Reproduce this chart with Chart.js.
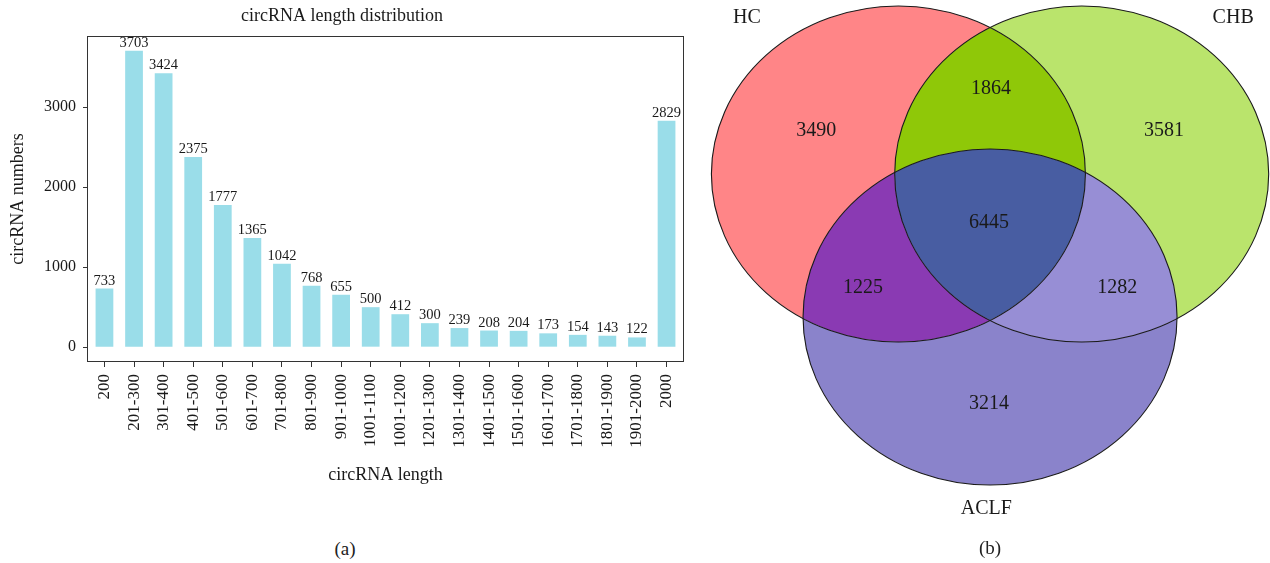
<!DOCTYPE html>
<html>
<head>
<meta charset="utf-8">
<script src="https://cdn.jsdelivr.net/npm/chart.js@4.4.1/dist/chart.umd.min.js"></script>
<style>
  html, body { margin: 0; padding: 0; background: #fff; }
  body { width: 1270px; height: 563px; position: relative; overflow: hidden; font-family: 'Liberation Serif', serif; }
  canvas { position: absolute; }
  #bars { left: 0; top: 0; }
  #venn { left: 700px; top: 0; }
  .cap { position: absolute; font-size: 19px; color: #222; transform: translate(-50%, -50%); line-height: 1; white-space: nowrap; }
</style>
</head>
<body>
<canvas id="bars" width="700" height="500"></canvas>
<canvas id="venn" width="570" height="563"></canvas>
<div class="cap" style="left:345px; top:548px;">(a)</div>
<div class="cap" style="left:990px; top:547px;">(b)</div>

<script>
// ---- (a) circRNA length distribution ----
const lengthBins = ['200', '201-300', '301-400', '401-500', '501-600', '601-700', '701-800',
  '801-900', '901-1000', '1001-1100', '1001-1200', '1201-1300', '1301-1400', '1401-1500',
  '1501-1600', '1601-1700', '1701-1800', '1801-1900', '1901-2000', '2000'];
const circCounts = [733, 3703, 3424, 2375, 1777, 1365, 1042, 768, 655, 500, 412, 300,
  239, 208, 204, 173, 154, 143, 122, 2829];
const countTicks = [0, 1000, 2000, 3000];

// ---- (b) overlap of circRNAs between groups ----
const groupNames = ['HC', 'CHB', 'ACLF'];
const regionGroups = [['HC'], ['HC', 'CHB'], ['CHB'], ['HC', 'CHB', 'ACLF'], ['HC', 'ACLF'], ['CHB', 'ACLF'], ['ACLF']];
const regionCounts = [3490, 1864, 3581, 6445, 1225, 1282, 3214];

// Diagram layout (unit circles in scale space) and region colours
const circleX = [-0.49, 0.49, 0];
const circleY = [0, 0, -0.851];
const circleR = [1, 1, 1];
const groupLabelX = [-1.30, 1.30, -0.02];
const groupLabelY = [0.928, 0.928, -1.99];
const regionLabelX = [-0.93, 0.005, 0.93, -0.005, -0.68, 0.68, -0.005];
const regionLabelY = [0.255, 0.506, 0.258, -0.29, -0.674, -0.674, -1.365];
const regionColors = ['#FF8587', '#8FC808', '#BAE46C', '#485DA2', '#8A3AB3', '#978ED5', '#8A83CB'];

const SERIF = "'Liberation Serif', 'Times New Roman', serif";
const INK = '#1a1a1a';

// Frame around the plot area and value labels over the bars
const barDecor = {
  id: 'barDecor',
  afterDatasetsDraw(chart) {
    const { ctx, chartArea: a } = chart;
    ctx.save();
    ctx.strokeStyle = '#333';
    ctx.lineWidth = 1;
    const l = Math.round(a.left) + 0.5, t = Math.round(a.top) + 0.5;
    ctx.strokeRect(l, t, Math.round(a.right) - l - 0.5, Math.round(a.bottom) - t - 0.5);
    ctx.fillStyle = INK;
    ctx.font = '14.5px ' + SERIF;
    ctx.textAlign = 'center';
    ctx.textBaseline = 'alphabetic';
    chart.getDatasetMeta(0).data.forEach((bar, i) => {
      ctx.fillText(String(circCounts[i]), bar.x, bar.y - 4);
    });
    ctx.restore();
  }
};

new Chart(document.getElementById('bars'), {
  type: 'bar',
  data: {
    datasets: [{
      data: circCounts.map((v, i) => ({ x: i, y: v })),
      backgroundColor: '#9ADDE9',
      borderWidth: 0,
      barPercentage: 0.6,
      categoryPercentage: 1
    }]
  },
  options: {
    responsive: false,
    animation: false,
    layout: { padding: { left: 0, right: 16, top: 0, bottom: 0 } },
    plugins: {
      legend: { display: false },
      tooltip: { enabled: false },
      title: {
        display: true,
        text: 'circRNA length distribution',
        color: INK,
        font: { family: SERIF, size: 18, weight: 'normal', lineHeight: 1.2 },
        padding: { top: 5, bottom: 9.4 }
      }
    },
    scales: {
      x: {
        type: 'linear',
        min: -0.59,
        max: 19.59,
        offset: false,
        grid: { display: true, drawOnChartArea: false, drawTicks: true, tickLength: 5, color: '#333', offset: false },
        border: { display: false },
        afterBuildTicks: s => { s.ticks = lengthBins.map((_, i) => ({ value: i })); },
        afterFit: s => { s.height = 138; },
        ticks: {
          autoSkip: false,
          minRotation: 90,
          maxRotation: 90,
          padding: 7,
          color: INK,
          font: { family: SERIF, size: 17 },
          callback: v => lengthBins[v]
        },
        title: {
          display: true,
          text: 'circRNA length',
          color: INK,
          font: { family: SERIF, size: 18, lineHeight: 1.2 },
          padding: { top: 0, bottom: 14 }
        }
      },
      y: {
        min: -185.15,
        max: 3888.15,
        grid: { display: true, drawOnChartArea: false, drawTicks: true, tickLength: 4, color: '#333' },
        border: { display: false },
        afterBuildTicks: s => { s.ticks = countTicks.map(v => ({ value: v })); },
        afterFit: s => { s.width = 87; },
        ticks: {
          padding: 7,
          color: INK,
          font: { family: SERIF, size: 16 },
          callback: v => String(v)
        },
        title: {
          display: true,
          text: 'circRNA numbers',
          color: INK,
          font: { family: SERIF, size: 18, lineHeight: 1.2 },
          padding: { top: 7.2, bottom: 0 }
        }
      }
    }
  },
  plugins: [barDecor]
});

// Venn regions: each region is clipped to its member circles and outside the others
const vennDraw = {
  id: 'vennDraw',
  beforeDatasetsDraw(chart) {
    const { ctx, chartArea: a, scales: { x, y } } = chart;
    const ell = k => {
      const cx = x.getPixelForValue(circleX[k]);
      const cy = y.getPixelForValue(circleY[k]);
      return {
        cx, cy,
        rx: Math.abs(x.getPixelForValue(circleX[k] + circleR[k]) - cx),
        ry: Math.abs(y.getPixelForValue(circleY[k] + circleR[k]) - cy)
      };
    };
    regionGroups.forEach((members, r) => {
      ctx.save();
      groupNames.forEach((name, k) => {
        const e = ell(k);
        const p = new Path2D();
        if (!members.includes(name)) p.rect(a.left, a.top, a.right - a.left, a.bottom - a.top);
        p.ellipse(e.cx, e.cy, e.rx, e.ry, 0, 0, Math.PI * 2);
        ctx.clip(p, 'evenodd');
      });
      ctx.fillStyle = regionColors[r];
      ctx.fillRect(a.left, a.top, a.right - a.left, a.bottom - a.top);
      ctx.restore();
    });
    ctx.save();
    ctx.strokeStyle = '#1a1a1a';
    ctx.lineWidth = 1.1;
    groupNames.forEach((_, k) => {
      const e = ell(k);
      ctx.beginPath();
      ctx.ellipse(e.cx, e.cy, e.rx, e.ry, 0, 0, Math.PI * 2);
      ctx.stroke();
    });
    ctx.restore();
  },
  afterDatasetsDraw(chart) {
    const { ctx } = chart;
    ctx.save();
    ctx.fillStyle = INK;
    ctx.font = '20px ' + SERIF;
    ctx.textAlign = 'center';
    ctx.textBaseline = 'middle';
    chart.getDatasetMeta(0).data.forEach((pt, i) => ctx.fillText(String(regionCounts[i]), pt.x, pt.y));
    chart.getDatasetMeta(1).data.forEach((pt, i) => ctx.fillText(groupNames[i], pt.x, pt.y));
    ctx.restore();
  }
};

new Chart(document.getElementById('venn'), {
  type: 'scatter',
  data: {
    datasets: [
      { label: 'regions', data: regionCounts.map((_, i) => ({ x: regionLabelX[i], y: regionLabelY[i] })), pointRadius: 0 },
      { label: 'groups', data: groupNames.map((_, i) => ({ x: groupLabelX[i], y: groupLabelY[i] })), pointRadius: 0 }
    ]
  },
  options: {
    responsive: false,
    animation: false,
    layout: { padding: 0 },
    plugins: { legend: { display: false }, tooltip: { enabled: false } },
    scales: {
      x: { type: 'linear', display: false, min: -1.551, max: 1.497 },
      y: { type: 'linear', display: false, min: -2.315, max: 1.0357 }
    }
  },
  plugins: [vennDraw]
});
</script>
</body>
</html>
